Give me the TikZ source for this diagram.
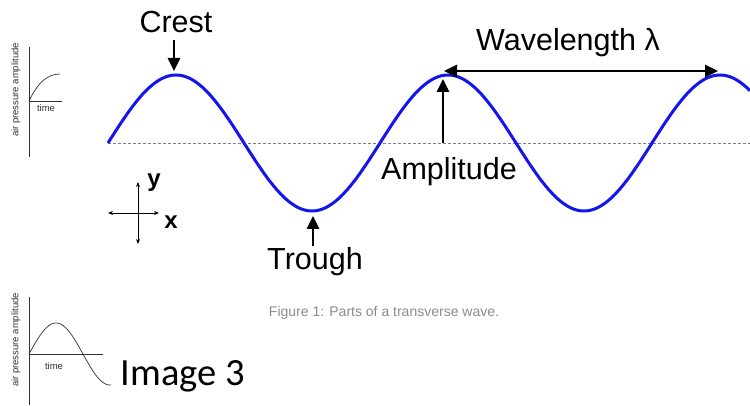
\documentclass[tikz,border=0pt]{standalone}
\usepackage{fontspec}
\setmainfont{Liberation Sans}
\newfontfamily\calib{Carlito}
\usetikzlibrary{arrows.meta}
\tikzset{
  lbl/.style={font=\fontsize{30.5}{33}\selectfont, inner sep=0pt, text=black},
  axlbl/.style={font=\fontsize{24}{26}\selectfont\bfseries, inner sep=0pt},
  bigarrow/.style={line width=2.6pt, -{Triangle[length=13pt,width=12pt]}},
  dblarrow/.style={line width=2.6pt, {Triangle[length=13pt,width=12pt]}-{Triangle[length=13pt,width=12pt]}},
  axarrow/.style={line width=0.9pt, {Stealth[length=5pt,width=4pt]}-{Stealth[length=5pt,width=4pt]}},
  wave/.style={line width=3pt, draw={rgb,255:red,20;green,20;blue,240}},
  thin/.style={line width=0.7pt, draw=black!80},
  small/.style={font=\fontsize{9.5}{10}\selectfont, inner sep=0pt, text=black!80},
}
\begin{document}
\begin{tikzpicture}[x=1pt,y=-1pt]
\useasboundingbox[fill=white] (0,0) rectangle (750,406);
% baseline
\draw[draw=black!50, line width=0.8pt, dash pattern=on 3pt off 2pt] (108,143) -- (750,143);
% wave
\draw[wave, domain=108:750, samples=300, smooth, variable=\t] plot (\t, {143-68*sin(1.3235294*(\t-108))});
% crest
\node[lbl] (crest) at (176,22) {Crest};
\coordinate (crestpt) at (174,71);
\draw[bigarrow] (174,40) -- (crestpt);
% trough
\node[lbl] (trough) at (315,262) {Trough};
\coordinate (troughpt) at (313,216);
\draw[bigarrow] (313,246) -- (troughpt);
% amplitude
\coordinate (ampbase) at (443,143);
\coordinate (amptop) at (443,79);
\draw[bigarrow] (ampbase) -- (amptop);
\node[lbl] (amp) at (449,172) {Amplitude};
% wavelength
\coordinate (wl1) at (444,71);
\coordinate (wl2) at (718,71);
\draw[dblarrow] (wl1) -- (wl2);
\node[lbl] (wl) at (568,43) {Wavelength λ};
% axes
\coordinate (axl) at (108,213);
\coordinate (axr) at (159,213);
\coordinate (axt) at (138,182);
\coordinate (axb) at (138,244);
\draw[axarrow] (axl) -- (axr);
\draw[axarrow] (axt) -- (axb);
\node[axlbl] (ylab) at (154,183) {y};
\node[axlbl] (xlab) at (171,222) {x};
% small graph 1
\draw[thin] (29,47) -- (29,157);
\draw[thin] (29,101) -- (62,101);
\draw[thin] (29,101) .. controls (38,82) and (48,74) .. (60,74);
\node[small] (time1) at (46,108) {time};
\node[small, rotate=90] (ap1) at (16,90) {air pressure amplitude};
% small graph 2
\draw[thin] (29,297) -- (29,405);
\draw[thin] (29,354) -- (103,354);
\draw[thin, domain=29:111, samples=100, smooth, variable=\t] plot (\t, {354-31*sin(3.3333*(\t-29))});
\node[small] (time2) at (54,366) {time};
\node[small, rotate=90] (ap2) at (16,340) {air pressure amplitude};
% captions
\node[inner sep=0pt, font=\fontsize{14}{16}\selectfont, text=black!45] (fig) at (384,313) {Figure 1: Parts of a transverse wave.};
\node[inner sep=0pt, font=\calib\fontsize{38.5}{42}\selectfont] (img3) at (183,376) {Image 3};
\end{tikzpicture}
\end{document}
